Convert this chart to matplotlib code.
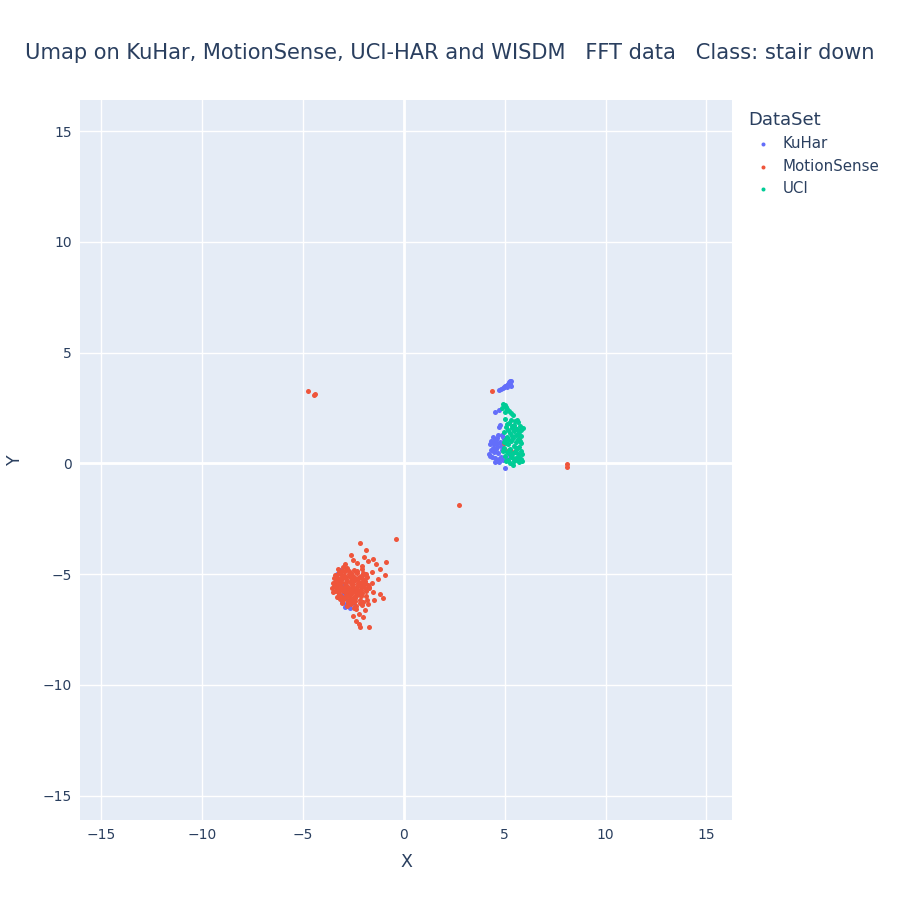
import matplotlib
matplotlib.use("Agg")
import matplotlib.pyplot as plt

plt.rcParams['font.family'] = ['DejaVu Sans']

title = "Umap on KuHar, MotionSense, UCI-HAR and WISDM   FFT data   Class: stair down"
series_names = ["KuHar", "MotionSense", "UCI"]
series_colors = ["#636efa", "#EF553B", "#00cc96"]
ticks = [-15, -10, -5, 0, 5, 10, 15]

# KuHar
kuhar_x = [4.7, 4.8, 4.9, 4.95, 5.0, 5.05, 5.1, 5.15, 5.2, 5.25, 5.3, 5.28, 5.22, 5.12, 5.3,
           4.5, 4.7, 4.75, 4.7, 4.65, 4.85, 4.5, 4.3, 4.25, 4.4, 4.55, 4.2, 4.35, 4.5, 4.6,
           4.7, 4.45, 4.65, 4.8, 4.85, 4.6, 4.75, 4.9, 5.0, 4.95, 4.6, 4.4, 4.5, 4.3, 4.8,
           5.1, 5.2, 4.9, 4.55, 4.38, 4.72, 4.62, 4.28, 4.48,
           -3.15, -3.3, -3.0, -2.9, -2.85, -2.9, -2.65, -2.6, -2.75, -3.1, -2.4, -2.95, -2.5,
           -3.05, -2.8]
kuhar_y = [3.3, 3.35, 3.4, 3.45, 3.5, 3.5, 3.55, 3.6, 3.65, 3.7, 3.7, 3.6, 3.55, 3.45, 3.5,
           2.3, 2.4, 1.75, 1.65, 1.3, 1.3, 1.0, 1.0, 0.85, 0.7, 0.65, 0.4, 0.3, 0.25, 0.1,
           0.05, 0.5, 0.45, 0.3, 0.6, 0.85, 0.95, 0.15, -0.2, 1.1, 1.15, 1.2, 0.05, 0.6, 0.8,
           0.2, 0.4, 1.2, 1.05, 0.95, 0.2, 0.72, 0.35, 0.88,
           -4.8, -5.0, -5.9, -6.1, -6.35, -6.5, -6.55, -6.3, -6.2, -6.05, -6.45, -5.5, -5.7,
           -6.25, -6.45]

# MotionSense
ms_x = [-4.75, -4.45, -4.4, 2.75, 8.1, 8.1, 4.35, 4.95, 5.0, 5.3, 5.7, -0.4,
        -2.15, -1.85, -2.6, -1.95, -1.55, -0.9, -1.75, -2.3, -1.4, -1.2, -2.9, -1.6,
        -0.95, -1.3, -1.6, -1.2, -1.05, -1.5, -1.75, -1.9, -2.2, -2.35, -2.2, -2.15,
        -1.7, -2.5, -2.0, -1.55, -1.85, -2.05, -2.5, -2.7,
        -3.27, -3.04, -2.83, -2.46, -2.31, -2.07,
        -3.41, -3.18, -2.97, -2.72, -2.58, -2.33, -2.12, -1.96,
        -3.46, -3.22, -3.07, -2.88, -2.61, -2.44, -2.27, -2.02, -1.83,
        -3.52, -3.28, -3.13, -2.91, -2.67, -2.53, -2.29, -2.08, -1.91,
        -3.57, -3.36, -3.12, -2.98, -2.73, -2.52, -2.38, -2.16, -1.93, -1.74,
        -3.43, -3.26, -3.02, -2.84, -2.68, -2.43, -2.21, -2.07, -1.86,
        -3.32, -3.09, -2.87, -2.73, -2.48, -2.32, -2.11, -1.88,
        -3.01, -2.77, -2.62, -2.41, -2.18, -2.03, -1.82,
        -2.83, -2.63, -2.37, -2.09,
        -3.22, -2.93, -2.61, -2.38, -2.04, -3.37, -3.08, -2.71, -2.47, -2.18,
        -1.93, -3.42, -3.14, -2.82, -2.56, -2.27, -2.0, -3.18, -2.88, -2.59,
        -2.33, -2.12, -2.97, -2.68, -2.42, -3.5, -3.28, -2.48, -2.78, -1.7,
        -3.35, -3.11, -2.79, -2.52, -2.24, -1.98, -3.24, -2.95, -2.66, -2.36,
        -2.14, -3.47, -3.19, -2.86, -2.57, -2.26, -3.06, -2.74, -2.45, -2.19,
        -3.31, -2.9, -2.54, -2.22, -1.79, -3.15, -2.69, -2.35, -2.06, -2.99]
ms_y = [3.25, 3.1, 3.15, -1.9, -0.05, -0.15, 3.25, 0.9, 0.6, 0.55, 1.1, -3.4,
        -3.6, -3.9, -4.15, -4.25, -4.3, -4.45, -4.4, -4.5, -4.55, -4.75, -4.55, -4.9,
        -5.05, -5.2, -5.4, -5.9, -6.1, -6.15, -6.35, -6.6, -6.8, -7.1, -7.25, -7.4,
        -7.4, -6.9, -6.95, -5.8, -5.0, -4.65, -4.35, -4.85,
        -4.77, -4.84, -4.73, -4.81, -4.86, -4.76,
        -5.03, -4.97, -5.06, -4.99, -5.04, -4.96, -5.07, -5.01,
        -5.18, -5.24, -5.16, -5.23, -5.19, -5.26, -5.17, -5.22, -5.15,
        -5.38, -5.43, -5.36, -5.42, -5.37, -5.44, -5.39, -5.35, -5.41,
        -5.63, -5.57, -5.62, -5.58, -5.64, -5.59, -5.61, -5.56, -5.65, -5.62,
        -5.78, -5.83, -5.77, -5.84, -5.79, -5.82, -5.76, -5.85, -5.78,
        -6.02, -5.97, -6.04, -5.98, -6.03, -5.96, -6.01, -5.99,
        -6.18, -6.23, -6.17, -6.22, -6.19, -6.24, -6.16,
        -6.42, -6.37, -6.43, -6.38,
        -4.92, -4.88, -4.95, -4.9, -4.93, -5.12, -5.1, -5.08, -5.14, -5.11,
        -5.3, -5.48, -5.5, -5.52, -5.47, -5.51, -5.45, -5.72, -5.7, -5.74,
        -5.69, -5.73, -6.1, -6.12, -6.08, -5.8, -6.05, -6.55, -6.3, -5.6,
        -5.31, -5.28, -5.33, -5.29, -5.34, -5.27, -5.67, -5.66, -5.71, -5.68,
        -5.9, -5.55, -5.88, -5.91, -5.87, -5.92, -6.29, -6.31, -6.28, -6.32,
        -5.06, -5.14, -5.21, -5.46, -5.48, -6.11, -5.93, -6.58, -5.55, -4.66]

# UCI
uci_x = [4.9, 5.0, 5.05, 5.1, 5.2, 5.3, 5.4, 4.85, 5.0,
         5.0, 5.3, 5.5, 5.65, 5.2, 5.45, 5.75, 5.05, 5.35, 5.6, 5.8, 5.15, 5.45, 5.7,
         4.95, 5.25, 5.55, 5.8, 5.1, 5.4, 5.65, 5.0, 5.3, 5.55, 5.8, 5.15, 5.45, 5.7,
         4.95, 5.25, 5.55, 5.8, 5.1, 5.4, 5.65, 5.0, 5.3, 5.55, 5.8, 5.15, 5.45, 5.7,
         5.25, 5.4, 5.6, 5.85, 5.05, 5.35, 5.6, 5.75, 5.5, 5.2, 5.9, 5.85, 5.05, 4.9,
         4.95, 5.12, 5.38, 5.62, 5.28, 5.52, 5.72, 5.18, 5.42, 5.68]
uci_y = [2.7, 2.65, 2.55, 2.45, 2.35, 2.25, 2.2, 2.5, 2.3,
         2.0, 1.95, 1.9, 1.85, 1.8, 1.75, 1.7, 1.65, 1.6, 1.55, 1.5, 1.5, 1.45, 1.4,
         1.4, 1.35, 1.3, 1.25, 1.2, 1.15, 1.1, 1.05, 1.0, 0.95, 0.9, 0.85, 0.8, 0.75,
         0.7, 0.65, 0.6, 0.55, 0.5, 0.45, 0.4, 0.35, 0.3, 0.25, 0.2, 0.15, 0.1, 0.05,
         0.0, -0.08, 0.15, 0.1, 0.9, 1.7, 1.95, 1.0, 0.5, 0.6, 1.6, 0.4, 0.1, 0.55,
         0.95, 1.78, 1.22, 0.68, 0.42, 1.58, 0.28, 1.08, 0.22, 1.32]

fig = plt.figure(figsize=(9, 9), dpi=100)
ax = fig.add_axes([80 / 900, 80 / 900, 652 / 900, 720 / 900])
ax.set_facecolor("#E5ECF6")

for name, color, xs, ys in zip(series_names, series_colors,
                               [kuhar_x, ms_x, uci_x], [kuhar_y, ms_y, uci_y]):
    ax.scatter(xs, ys, s=13, color=color, linewidths=0, label=name, zorder=3)

ax.set_xlim(-16.05, 16.27)
ax.set_ylim(-16.1, 16.4)
ax.set_xticks(ticks)
ax.set_yticks(ticks)
ax.set_xticklabels([str(t).replace("-", "\u2212") for t in ticks])
ax.set_yticklabels([str(t).replace("-", "\u2212") for t in ticks])
ax.grid(True, color="white", linewidth=1)
ax.set_axisbelow(True)
ax.axhline(0, color="white", linewidth=2, zorder=1)
ax.axvline(0, color="white", linewidth=2, zorder=1)
for s in ax.spines.values():
    s.set_visible(False)
ax.tick_params(length=0, labelsize=10, labelcolor="#2a3f5f", pad=6)

ax.set_xlabel("X", fontsize=12.5, color="#2a3f5f", labelpad=8)
ax.set_ylabel("Y", fontsize=12.5, color="#2a3f5f", labelpad=13)
fig.text(0.5, 1 - 53 / 900, title, ha="center", va="center", fontsize=15.1, color="#2a3f5f")

leg = ax.legend(loc="upper left", bbox_to_anchor=(1.004, 1.004), frameon=False,
                title="DataSet", alignment="left", fontsize=10.8, title_fontsize=13,
                markerscale=0.8, handletextpad=0.3, labelspacing=0.5)
for t in leg.get_texts():
    t.set_color("#2a3f5f")
leg.get_title().set_color("#2a3f5f")

fig.savefig("out.png", dpi=100)
